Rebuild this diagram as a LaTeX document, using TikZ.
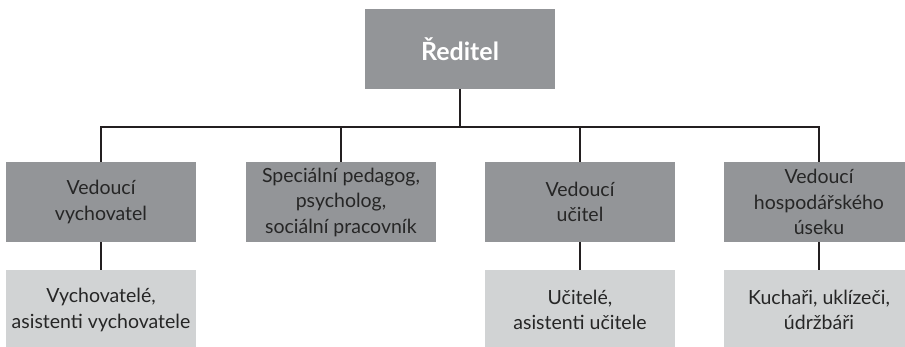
\documentclass[tikz,border=0pt]{standalone}
\usepackage{fontspec}
\setmainfont{Lato}
\definecolor{darkbox}{HTML}{939598}
\definecolor{lightbox}{HTML}{D1D3D4}
\definecolor{linecol}{HTML}{231F20}
\begin{document}
\begin{tikzpicture}[x=1pt,y=-1pt,
  box/.style={rectangle, minimum width=190pt, minimum height=80pt, inner sep=0pt, align=center, text=black!85, font=\fontsize{19.5}{25.5}\selectfont},
  headbox/.style={box, fill=darkbox},
  subbox/.style={box, fill=lightbox},
  topbox/.style={box, fill=darkbox, text=white, font=\fontsize{25}{30}\selectfont\bfseries},
  conn/.style={draw=linecol, line width=2.8pt}]
\useasboundingbox (0,0) rectangle (905,346);
\clip (0,0) rectangle (905,346);
\node[topbox] (top) at (460,49) {Ředitel};
\coordinate (bar) at (460,127);
\node[headbox] (b1) at (101,202) {Vedoucí\\vychovatel};
\node[headbox] (b2) at (341,202) {Speciální pedagog,\\psycholog,\\sociální pracovník};
\node[headbox] (b3) at (580,202) {Vedoucí\\učitel};
\node[headbox] (b4) at (819,202) {Vedoucí\\hospodářského\\úseku};
\node[subbox] (c1) at (101,310) {Vychovatelé,\\asistenti vychovatele};
\node[subbox] (c3) at (580,310) {Učitelé,\\asistenti učitele};
\node[subbox] (c4) at (819,310) {Kuchaři, uklízeči,\\údržbáři};
\draw[conn] (top.south) -- (bar);
\draw[conn] (b1.north) -- (b1.north |- bar) -- (b4.north |- bar) -- (b4.north);
\draw[conn] (b2.north) -- (b2.north |- bar);
\draw[conn] (b3.north) -- (b3.north |- bar);
\draw[conn] (b1.south) -- (c1.north);
\draw[conn] (b3.south) -- (c3.north);
\draw[conn] (b4.south) -- (c4.north);
\end{tikzpicture}
\end{document}
